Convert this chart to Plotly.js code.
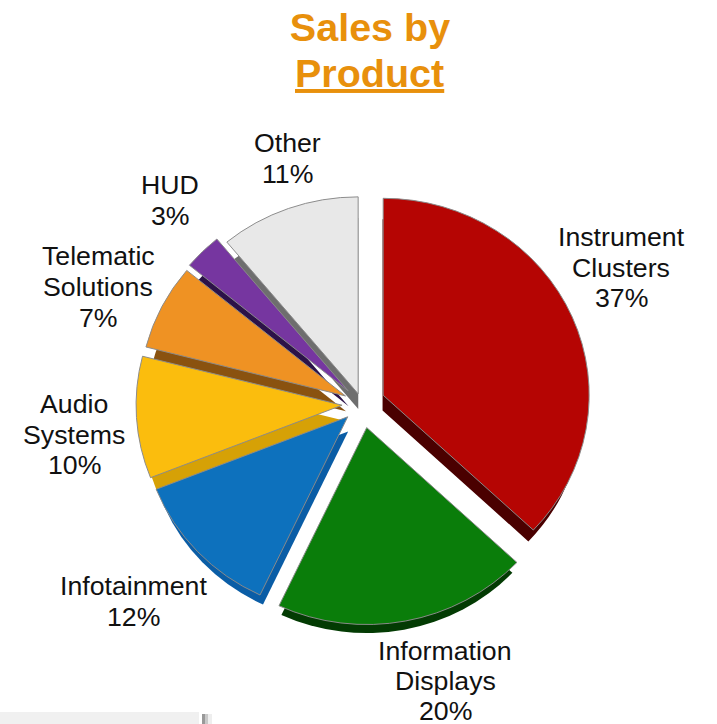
<!DOCTYPE html>
<html>
<head>
<meta charset="utf-8">
<script src="https://cdn.plot.ly/plotly-3.0.1.min.js"></script>
<style>html,body{margin:0;padding:0;background:#fff}#chart{width:717px;height:724px}</style>
</head>
<body>
<div id="chart"></div>
<script>
// Sales split by product family, share of total in percent
const categories = ["Instrument Clusters", "Information Displays", "Infotainment", "Audio Systems", "Telematic Solutions", "HUD", "Other"];
const shares = [37, 20, 12, 10, 7, 3, 11];
const labelLines = [["Instrument", "Clusters"], ["Information", "Displays"], ["Infotainment"], ["Audio", "Systems"], ["Telematic", "Solutions"], ["HUD"], ["Other"]];
const faceColors = ["#b50503", "#0a7d0a", "#0d71bd", "#fbbd0d", "#ef9223", "#7636a0", "#e8e8e8"];
const sideColors = ["#4a0000", "#033b03", "#0a5da6", "#d6a106", "#8a520f", "#2c1248", "#6e6e6e"];
const slicePull = [0.112, 0.122, 0.095, 0.097, 0.09, 0.095, 0.055];

// label anchor points and line pitch, in pixels
const labelX = [621, 445, 133, 74, 98, 170, 287];
const labelTop = [237, 651, 586, 404, 256, 185, 143];
const linePitch = [30.5, 30, 31, 30.5, 31, 31, 31];

const W = 717, H = 724;
const pieCx = 362, pieCy = 404, pieR = 206;
const tilt = 0.956;      // vertical squash that gives the pie its tilted look
const sideDrop = 15;     // how far the side walls sit below the faces
const maxPull = Math.max(...slicePull);

// Domain that yields a pie of radius r centred on (cx, cy) given the pull headroom
function domainFor(cx, cy, r) {
  const half = r * (1 + maxPull);
  return {
    x: [(cx - half) / W, (cx + half) / W],
    y: [1 - (cy + half) / H, 1 - (cy - half) / H]
  };
}

function pieTrace(colors, lineColor, domain) {
  return {
    type: "pie",
    labels: categories,
    values: shares,
    sort: false,
    direction: "clockwise",
    rotation: 0,
    pull: slicePull,
    textinfo: "none",
    hoverinfo: "label+percent",
    showlegend: false,
    domain: domain,
    marker: { colors: colors, line: { color: lineColor, width: 1 } }
  };
}

const traces = [
  pieTrace(sideColors, "rgba(0,0,0,0)", domainFor(pieCx, pieCy + sideDrop / tilt, pieR - 6)),
  pieTrace(faceColors, "#8a8a8a", domainFor(pieCx, pieCy, pieR))
];

const fontFamily = "Liberation Sans, Arial, sans-serif";
const titleColor = "#e8900c";

// Category labels: name lines followed by the percentage taken from the shares
const annotations = [];
categories.forEach((name, i) => {
  const lines = labelLines[i].concat([shares[i] + "%"]);
  lines.forEach((text, k) => {
    annotations.push({
      text: text,
      xref: "paper", yref: "paper",
      x: labelX[i] / W,
      y: 1 - (labelTop[i] + k * linePitch[i]) / H,
      xanchor: "center", yanchor: "middle",
      showarrow: false,
      font: { family: fontFamily, size: 26.7, color: "#111111" }
    });
  });
});

// Second line of the heading, underlined
annotations.push({
  text: "<b><u>Product</u></b>",
  xref: "paper", yref: "paper",
  x: 369.5 / W, y: 1 - 73 / H,
  xanchor: "center", yanchor: "middle",
  showarrow: false,
  font: { family: fontFamily, size: 39.5, color: titleColor }
});

const shapes = [
  { type: "rect", xref: "paper", yref: "paper", x0: 0, x1: 199 / W, y0: 0, y1: 1 - 712 / H, fillcolor: "#f0f0f0", line: { width: 0 } },
  { type: "rect", xref: "paper", yref: "paper", x0: 202 / W, x1: 205 / W, y0: 0, y1: 1 - 714 / H, fillcolor: "#999999", line: { width: 0 } },
  { type: "rect", xref: "paper", yref: "paper", x0: 205 / W, x1: 208 / W, y0: 0, y1: 1 - 714 / H, fillcolor: "#c8c8c8", line: { width: 0 } },
  { type: "rect", xref: "paper", yref: "paper", x0: 208 / W, x1: 212 / W, y0: 0, y1: 1 - 714 / H, fillcolor: "#eeeeee", line: { width: 0 } }
];

const layout = {
  width: W, height: H,
  margin: { l: 0, r: 0, t: 0, b: 0 },
  paper_bgcolor: "#ffffff",
  showlegend: false,
  title: {
    text: "<b>Sales by</b>",
    x: 370 / W, xanchor: "center",
    y: 1 - 27 / H, yanchor: "middle",
    font: { family: fontFamily, size: 39.5, color: titleColor }
  },
  annotations: annotations,
  shapes: shapes
};

Plotly.newPlot("chart", traces, layout, { displayModeBar: false }).then(gd => {
  // Squash the pies vertically about their centre so they read as tilted discs
  const layer = gd.querySelector(".pielayer");
  layer.setAttribute("transform", `translate(0,${pieCy * (1 - tilt)}) scale(1,${tilt})`);
});
</script>
</body>
</html>
